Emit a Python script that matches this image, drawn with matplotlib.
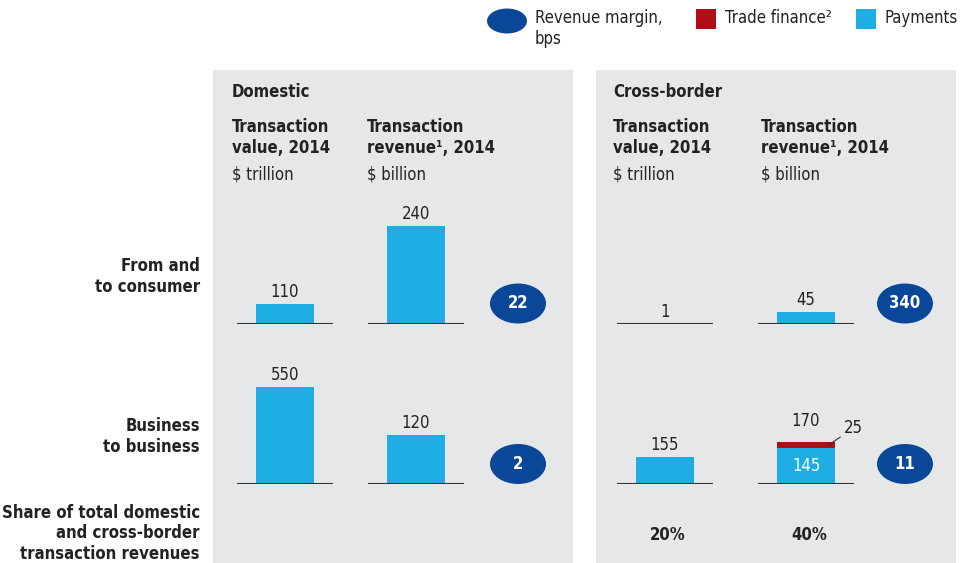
import matplotlib.pyplot as plt
from matplotlib.patches import Rectangle, Ellipse

# Data
rows = ["consumer", "business"]
dom_value = [110, 550]          # $ trillion
dom_revenue = [240, 120]        # $ billion
cb_value = [1, 155]             # $ trillion
cb_payments = [45, 145]         # $ billion
cb_trade = [0, 25]              # $ billion
dom_margin = [22, 2]            # bps
cb_margin = [340, 11]           # bps
cb_share = ["20%", "40%"]

row_labels = ["From and\nto consumer", "Business\nto business"]

BLUE = "#1FAEE4"
RED = "#B00D17"
NAVY = "#0B4798"
GRAY = "#E6E7E9"
TXT = "#222222"

plt.rcParams["font.family"] = ["DejaVu Sans"]
plt.rcParams["font.stretch"] = "condensed"
FS = 12

W, H = 966, 563
fig = plt.figure(figsize=(W / 100, H / 100), dpi=100)

# background layer in pixel coordinates
bg = fig.add_axes([0, 0, 1, 1])
bg.set_xlim(0, W)
bg.set_ylim(H, 0)
bg.axis("off")

bg.add_patch(Rectangle((213, 70), 360, 493, color=GRAY, lw=0))
bg.add_patch(Rectangle((596, 70), 360, 493, color=GRAY, lw=0))


def lines(x, y0, text, step=21, **kw):
    for i, line in enumerate(text.split("\n")):
        bg.text(x, y0 + i * step, line, va="center", color=TXT, **kw)


# legend
bg.add_patch(Ellipse((507, 21), 40, 25, color=NAVY, lw=0))
lines(535, 18, "Revenue margin,\nbps", fontsize=FS)
bg.add_patch(Rectangle((696, 9), 20, 20, color=RED, lw=0))
bg.text(725, 18, "Trade finance²", va="center", fontsize=FS, color=TXT)
bg.add_patch(Rectangle((856, 9), 20, 20, color=BLUE, lw=0))
bg.text(885, 18, "Payments", va="center", fontsize=FS, color=TXT)

# panel headers
bg.text(232, 92, "Domestic", va="center", fontsize=FS, fontweight="bold", color=TXT)
bg.text(613, 92, "Cross-border", va="center", fontsize=FS, fontweight="bold", color=TXT)
for x in (232, 613):
    lines(x, 127, "Transaction\nvalue, 2014", fontsize=FS, fontweight="bold")
    bg.text(x, 174, "$ trillion", va="center", fontsize=FS, color=TXT)
for x in (367, 761):
    lines(x, 127, "Transaction\nrevenue¹, 2014", fontsize=FS, fontweight="bold")
    bg.text(x, 174, "$ billion", va="center", fontsize=FS, color=TXT)

# row labels
for lab, y in zip(row_labels, [266, 426]):
    lines(200, y, lab, ha="right", fontsize=FS, fontweight="bold")
lines(200, 513, "Share of total domestic\nand cross-border\ntransaction revenues",
      step=20.5, ha="right", fontsize=FS, fontweight="bold")

baselines = [323.5, 484]
AX_H = 120


def cell(x0, x1, base, scale):
    ax = fig.add_axes([x0 / W, (H - base) / H, (x1 - x0) / W, AX_H / H])
    ax.set_xlim(-0.5, 0.5)
    ax.set_ylim(0, AX_H / scale)
    ax.axis("off")
    ax.axhline(0, color="#333333", lw=1.5, zorder=3)
    return ax


def label(ax, v, top, dy=2):
    ax.annotate(str(v), (0, top), xytext=(0, dy), textcoords="offset points",
                ha="center", va="bottom", fontsize=FS, color=TXT)


for i, base in enumerate(baselines):
    # domestic value
    ax = cell(237, 333, base, 0.177)
    ax.bar(0, dom_value[i], width=0.6, color=BLUE)
    label(ax, dom_value[i], dom_value[i])
    # domestic revenue
    ax = cell(368, 464, base, 0.408)
    ax.bar(0, dom_revenue[i], width=0.6, color=BLUE)
    label(ax, dom_revenue[i], dom_revenue[i])
    # cross-border value
    ax = cell(617, 713, base, 0.177)
    ax.bar(0, cb_value[i], width=0.6, color=BLUE)
    label(ax, cb_value[i], cb_value[i])
    # cross-border revenue
    ax = cell(758, 854, base, 0.25)
    ax.bar(0, cb_payments[i], width=0.6, color=BLUE)
    total = cb_payments[i] + cb_trade[i]
    if cb_trade[i]:
        ax.bar(0, cb_trade[i], bottom=cb_payments[i], width=0.6, color=RED)
        ax.text(0, cb_payments[i] / 2, str(cb_payments[i]), ha="center", va="center",
                fontsize=FS, color="white")
        ax.annotate(str(cb_trade[i]), (0.24, cb_payments[i] + cb_trade[i] / 2),
                    xytext=(11, 12), textcoords="offset points", ha="left", va="center",
                    fontsize=FS, color=TXT,
                    arrowprops=dict(arrowstyle="-", color="#333333", lw=0.8,
                                    shrinkA=1, shrinkB=0))
        label(ax, total, total, dy=8)
    else:
        label(ax, total, total)

    # margin ellipses
    for x, m in ((518, dom_margin[i]), (905, cb_margin[i])):
        y = base - 20
        bg.add_patch(Ellipse((x, y), 56, 40, color=NAVY, lw=0))
        bg.text(x, y, str(m), ha="center", va="center", fontsize=FS,
                fontweight="bold", color="white")

for x, s in zip([668, 809], cb_share):
    bg.text(x, 535, s, ha="center", va="center", fontsize=FS, fontweight="bold", color=TXT)

fig.savefig("out.png", dpi=100)
